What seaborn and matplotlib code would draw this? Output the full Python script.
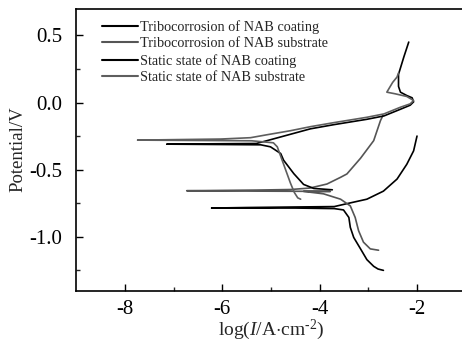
import matplotlib
matplotlib.use("Agg")
import matplotlib.pyplot as plt
import seaborn as sns
import pandas as pd

# Polarization curves: log current density (x) vs potential (y)
tribo_coating_x = [-2.69, -2.80, -2.89, -3.03, -3.16, -3.30, -3.37, -3.40, -3.51, -3.70, -4.50, -5.50, -6.22,
                   -5.50, -4.50, -3.70, -3.40, -3.03, -2.69, -2.41, -2.21, -2.07, -2.00]
tribo_coating_y = [-1.25, -1.24, -1.22, -1.17, -1.09, -1.005, -0.93, -0.856, -0.80, -0.79, -0.786, -0.786, -0.786,
                   -0.782, -0.778, -0.775, -0.75, -0.72, -0.66, -0.57, -0.46, -0.36, -0.25]

tribo_substrate_x = [-2.79, -2.96, -3.10, -3.20, -3.27, -3.37, -3.57, -3.92, -4.33, -3.78, -5.30, -6.73,
                     -5.30, -4.60, -4.20, -3.85, -3.57, -3.44, -3.16, -2.89, -2.75, -2.70]
tribo_substrate_y = [-1.10, -1.09, -1.04, -0.955, -0.856, -0.77, -0.72, -0.68, -0.662, -0.662, -0.66, -0.657,
                     -0.652, -0.648, -0.637, -0.607, -0.557, -0.532, -0.415, -0.284, -0.134, -0.097]

static_coating_x = [-3.74, -4.12, -4.33, -4.53, -4.74, -4.80, -5.01, -5.21, -7.14, -5.30, -5.08, -4.19,
                    -3.71, -3.03, -2.68, -2.34, -2.14, -2.07, -2.10, -2.21, -2.34, -2.38, -2.38, -2.27, -2.17]
static_coating_y = [-0.65, -0.64, -0.61, -0.53, -0.43, -0.38, -0.33, -0.315, -0.31, -0.305, -0.284, -0.196,
                    -0.165, -0.125, -0.10, -0.05, -0.02, 0.005, 0.035, 0.052, 0.077, 0.12, 0.21, 0.34, 0.45]

static_substrate_x = [-4.39, -4.45, -4.52, -4.60, -4.67, -4.77, -4.87, -4.95, -5.40, -7.74, -6.03, -5.42,
                      -5.08, -4.60, -4.19, -3.71, -3.03, -2.68, -2.34, -2.14, -2.07, -2.21, -2.45, -2.62,
                      -2.50, -2.41, -2.38]
static_substrate_y = [-0.72, -0.71, -0.67, -0.60, -0.53, -0.43, -0.33, -0.30, -0.285, -0.28, -0.272, -0.262,
                      -0.24, -0.21, -0.18, -0.15, -0.11, -0.085, -0.035, -0.01, 0.015, 0.045, 0.065, 0.077,
                      0.15, 0.19, 0.22]

labels = ["Tribocorrosion of NAB coating", "Tribocorrosion of NAB substrate",
          "Static state of NAB coating", "Static state of NAB substrate"]

sns.set_theme(style="white")
plt.rcParams["font.family"] = ["Liberation Serif", "DejaVu Serif"]
plt.rcParams["mathtext.fontset"] = "custom"
plt.rcParams["mathtext.rm"] = "Liberation Serif"
plt.rcParams["mathtext.it"] = "Liberation Serif:italic"
plt.rcParams["axes.unicode_minus"] = False

fig = plt.figure(figsize=(4.62, 3.49), dpi=100)
ax = fig.add_axes([0.165, 0.1676, 0.843, 0.808])

series = [
    (tribo_coating_x, tribo_coating_y, "#000000"),
    (tribo_substrate_x, tribo_substrate_y, "#555555"),
    (static_coating_x, static_coating_y, "#000000"),
    (static_substrate_x, static_substrate_y, "#5e5e5e"),
]
for (xs, ys, col), lab in zip(series, labels):
    df = pd.DataFrame({"logI": xs, "E": ys})
    sns.lineplot(data=df, x="logI", y="E", sort=False, estimator=None, color=col,
                 lw=1.2, label=lab, ax=ax)

ax.set_xlim(-9, -1)
ax.set_ylim(-1.4, 0.7)
ax.set_xticks([-8, -6, -4, -2])
ax.set_xticks([-7, -5, -3], minor=True)
ax.set_yticks([-1.0, -0.5, 0.0, 0.5])
ax.set_yticks([-1.25, -0.75, -0.25, 0.25], minor=True)
ax.set_yticklabels(["-1.0", "-0.5", "0.0", "0.5"])
ax.tick_params(which="major", direction="in", length=5, width=1, labelsize=15, colors="black", pad=7)
ax.tick_params(axis="y", which="major", pad=10)
ax.tick_params(which="minor", direction="in", length=3, width=1)
ax.tick_params(axis="x", which="both", bottom=True, top=False)
ax.tick_params(axis="y", which="both", left=True, right=False)
for s in ax.spines.values():
    s.set_color("black")
    s.set_linewidth(1.2)

ax.set_xlabel("log($\\mathit{I}$/A$\\cdot$cm$^{\\mathregular{\u2010}2}$)", fontsize=14, labelpad=-1)
ax.set_ylabel("Potential/V", fontsize=13.5, labelpad=2)

leg = ax.legend(loc="upper left", bbox_to_anchor=(0.045, 0.99), frameon=False, fontsize=10.3,
                handlelength=2.5, handletextpad=0.1, labelspacing=0.25, borderaxespad=0.2)
for h in leg.get_lines():
    h.set_linewidth(1.5)

fig.savefig("out.png", dpi=100)
